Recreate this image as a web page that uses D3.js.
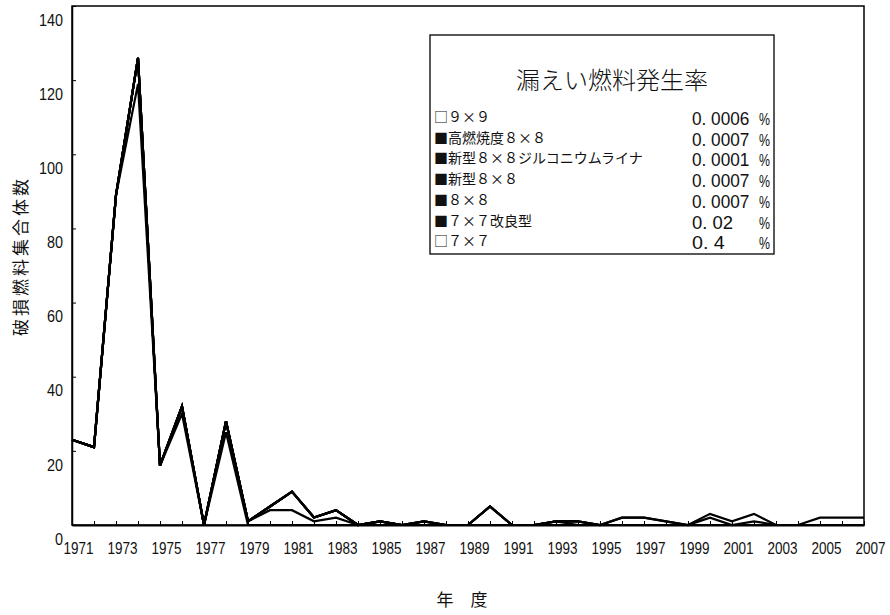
<!DOCTYPE html>
<html><head><meta charset="utf-8">
<script src="https://cdn.jsdelivr.net/npm/d3@7/dist/d3.min.js"></script>
<style>body{margin:0;background:#fff}svg{display:block}</style></head>
<body><svg id="chart" width="890" height="615"></svg>
<script>
// Categories (fiscal years)
const years = [1971,1972,1973,1974,1975,1976,1977,1978,1979,1980,1981,1982,1983,1984,1985,1986,1987,1988,1989,1990,
               1991,1992,1993,1994,1995,1996,1997,1998,1999,2000,2001,2002,2003,2004,2005,2006,2007];
// Failed fuel assemblies per fuel type (stacked, bottom first)
const s7x7      = [23,21,89,119,16,30,0,25,0,0,0,0,0,0,0,0,0,0,0,0, 0,0,0,0,0,0,0,0,0,0,0,0,0,0,0,0,0];
const s7x7kai   = [0,0,0,7,0,2,0,3,1,4,4,1,2,0,0,0,0,0,0,0, 0,0,0,0,0,0,0,0,0,0,0,0,0,0,0,0,0];
const s8x8      = [0,0,0,0,0,0,0,0,0,1,5,1,2,0,1,0,0,0,0,0, 0,0,0,0,0,0,0,0,0,0,0,0,0,0,0,0,0];
const s8x8new   = [0,0,0,0,0,0,0,0,0,0,0,0,0,0,0,0,1,0,0,5, 0,0,1,0,0,0,0,0,0,0,0,0,0,0,0,0,0];
const s8x8zr    = [0,0,0,0,0,0,0,0,0,0,0,0,0,0,0,0,0,0,0,0, 0,0,0,1,0,0,0,0,0,0,0,0,0,0,0,0,0];
const s8x8high  = [0,0,0,0,0,0,0,0,0,0,0,0,0,0,0,0,0,0,0,0, 0,0,0,0,0,2,2,1,0,2,0,1,0,0,0,0,0];
const s9x9      = [0,0,0,0,0,0,0,0,0,0,0,0,0,0,0,0,0,0,0,0, 0,0,0,0,0,0,0,0,0,1,1,2,0,0,2,2,2];

const seriesNames = ["7×7","7×7改良型","8×8","新型8×8","新型8×8ジルコニウムライナ","高燃焼度8×8","9×9"];
const seriesValues = [s7x7, s7x7kai, s8x8, s8x8new, s8x8zr, s8x8high, s9x9];

// Legend content (top to bottom)
const legendLabels = ["□９×９","■高燃焼度８×８","■新型８×８ジルコニウムライナ","■新型８×８","■８×８","■７×７改良型","□７×７"];
const legendRates  = ["0. 0006","0. 0007","0. 0001","0. 0007","0. 0007","0. 02","0. 4"];
const legendTitle = "漏えい燃料発生率";

const yTicks = [0,20,40,60,80,100,120,140];
const xLabelYears = years.filter(y => y % 2 === 1);

const svg = d3.select("#chart");
const L = 72, R = 864, T = 6, B = 525;
const x = d3.scalePoint().domain(years).range([L, R]);
const y = d3.scaleLinear().domain([0, 140]).range([B, T]);

const rows = years.map((yr, i) => {
  const o = {year: yr};
  seriesNames.forEach((n, k) => o[n] = seriesValues[k][i]);
  return o;
});
const stacked = d3.stack().keys(seriesNames)(rows);

// Frame
svg.append("rect").attr("x", L).attr("y", T).attr("width", R - L).attr("height", B - T)
  .attr("fill", "none").attr("stroke", "#000").attr("stroke-width", 1.5);

// Y axis
const yAxis = svg.append("g").attr("transform", `translate(${L},0)`)
  .call(d3.axisLeft(y).tickValues(yTicks).tickSizeInner(-4).tickSizeOuter(0).tickPadding(9));
yAxis.select(".domain").attr("stroke-width", 1.5);
yAxis.selectAll("text").attr("font-family", "Liberation Sans, Arial, sans-serif")
  .attr("font-size", 16).attr("fill", "#111").attr("dy", "1.2em")
  .attr("textLength", d => String(d).length * 8).attr("lengthAdjust", "spacingAndGlyphs");

// X axis
const xAxis = svg.append("g").attr("transform", `translate(0,${B})`)
  .call(d3.axisBottom(x).tickSizeInner(-4).tickSizeOuter(0).tickPadding(18)
    .tickFormat(d => xLabelYears.includes(d) ? String(d) : ""));
xAxis.select(".domain").attr("stroke-width", 2);
xAxis.selectAll("text").attr("font-family", "Liberation Sans, Arial, sans-serif")
  .attr("font-size", 16).attr("fill", "#111").attr("dx", 6)
  .attr("textLength", d => xLabelYears.includes(d) ? 30 : null).attr("lengthAdjust", "spacingAndGlyphs");

// Lines (cumulative)
const line = d3.line().x(d => x(d.data.year)).y(d => y(d[1]));
svg.append("g").selectAll("path").data(stacked).join("path")
  .attr("d", line).attr("fill", "none").attr("stroke", "#000")
  .attr("stroke-width", 2.2).attr("stroke-linejoin", "miter");

// Axis titles
svg.append("text").attr("transform", "translate(27,256) rotate(-90)")
  .attr("text-anchor", "middle").attr("font-family", "Noto Sans CJK JP, sans-serif")
  .attr("font-size", 17).attr("letter-spacing", 3).attr("fill", "#111").text("破損燃料集合体数");
svg.append("text").attr("x", 462).attr("y", 606).attr("text-anchor", "middle")
  .attr("font-family", "Noto Sans CJK JP, sans-serif").attr("font-size", 17)
  .attr("fill", "#111").text("年　度");

// Legend box
const lg = svg.append("g");
lg.append("rect").attr("x", 430).attr("y", 35).attr("width", 344).attr("height", 219)
  .attr("fill", "#fff").attr("stroke", "#000").attr("stroke-width", 1.3);
lg.append("text").attr("x", 612).attr("y", 89).attr("text-anchor", "middle")
  .attr("font-family", "Noto Sans CJK JP, sans-serif").attr("font-size", 24)
  .attr("font-weight", 300).attr("fill", "#111").text(legendTitle);
legendLabels.forEach((lab, i) => {
  const by = 122 + i * 20.7;
  lg.append("text").attr("x", 434).attr("y", by)
    .attr("font-family", "Noto Sans CJK JP, sans-serif").attr("font-size", 14)
    .attr("fill", "#111").text(lab);
  lg.append("text").attr("x", 692).attr("y", by + 3)
    .attr("font-family", "Liberation Sans, Arial, sans-serif").attr("font-size", 19)
    .attr("fill", "#111").attr("textLength", legendRates[i].length * 8.2)
    .attr("lengthAdjust", "spacingAndGlyphs").text(legendRates[i]);
  lg.append("text").attr("x", 759).attr("y", by + 3)
    .attr("font-family", "Liberation Sans, Arial, sans-serif").attr("font-size", 17)
    .attr("fill", "#111").attr("textLength", 11).attr("lengthAdjust", "spacingAndGlyphs").text("%");
});
</script></body></html>
